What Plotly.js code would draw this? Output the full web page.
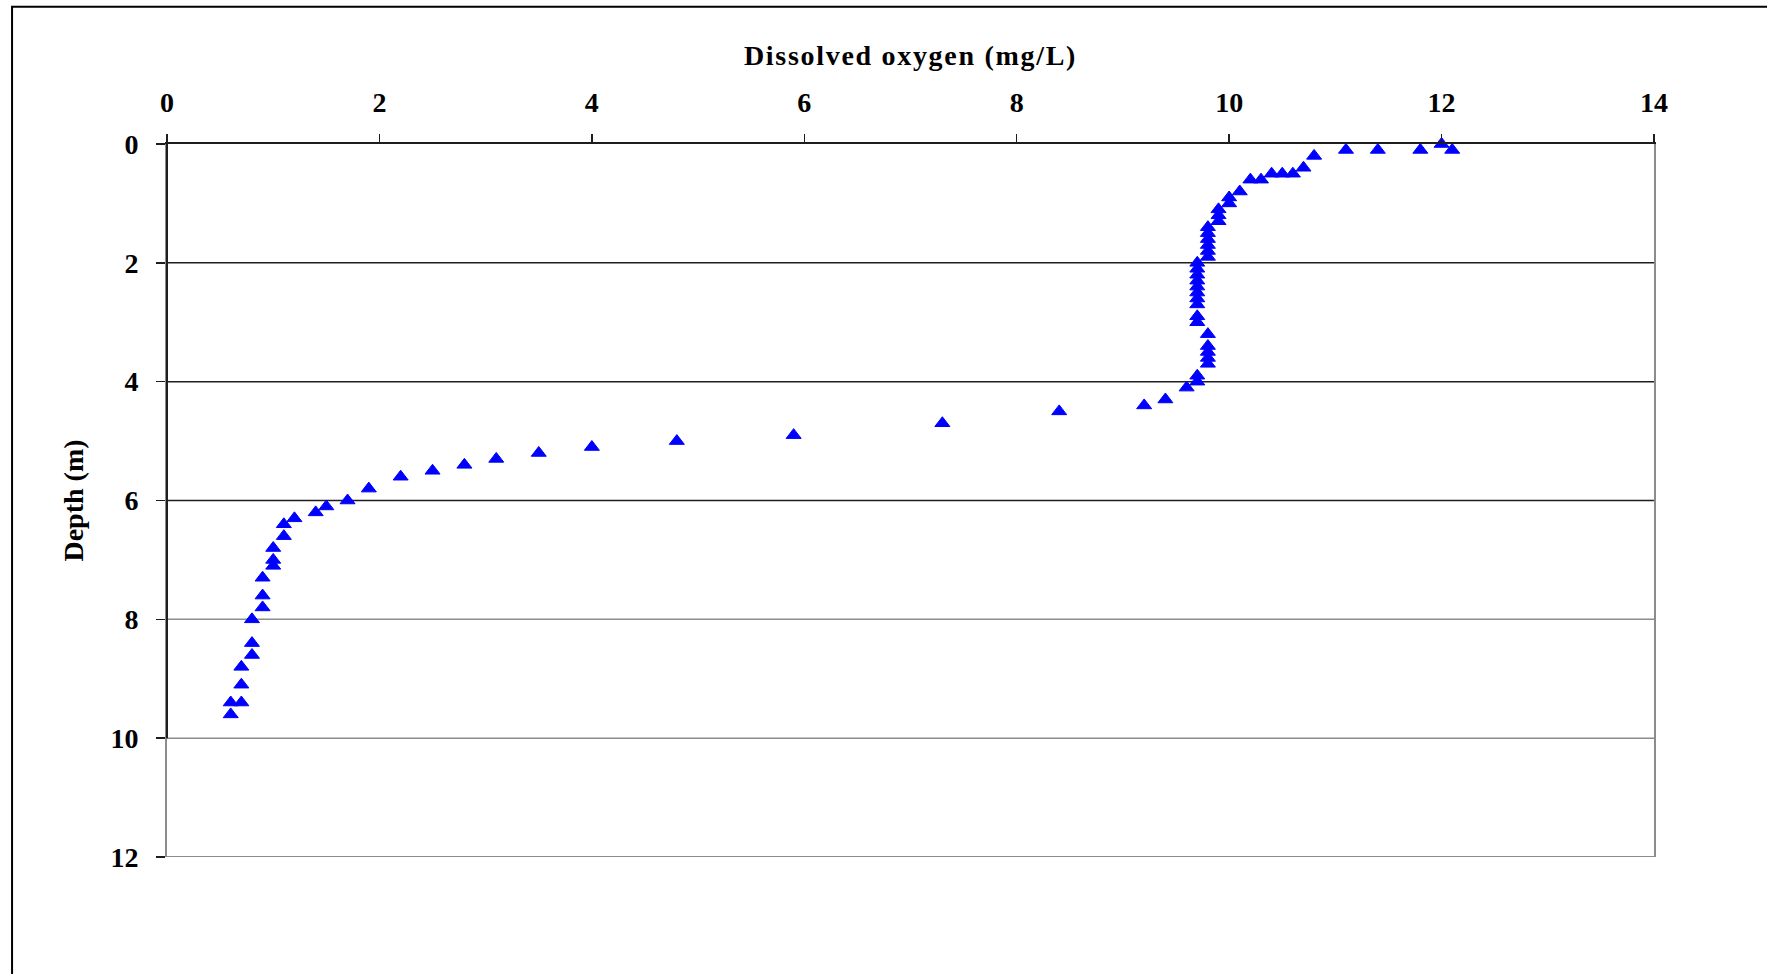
<!DOCTYPE html>
<html>
<head>
<meta charset="utf-8">
<script src="https://cdn.plot.ly/plotly-3.0.1.min.js"></script>
<style>
  html, body { margin: 0; padding: 0; background: #fff; }
  #chart { width: 1767px; height: 974px; }
  .xtitle { letter-spacing: 1.7px; }
</style>
</head>
<body>
<div id="chart"></div>
<script>
// Dissolved oxygen profile: depth (m) against DO concentration (mg/L)
const depthM = [
  0.0, 0.1, 0.1, 0.1, 0.1, 0.2, 0.4, 0.5, 0.5, 0.5,
  0.6, 0.6, 0.8, 0.9, 1.0, 1.1, 1.2, 1.3, 1.4, 1.5,
  1.6, 1.7, 1.8, 1.9, 2.0, 2.1, 2.2, 2.3, 2.4, 2.5,
  2.6, 2.7, 2.9, 3.0, 3.2, 3.4, 3.5, 3.6, 3.7, 3.9,
  4.0, 4.1, 4.3, 4.4, 4.5, 4.7, 4.9, 5.0, 5.1, 5.2,
  5.3, 5.4, 5.5, 5.6, 5.8, 6.0, 6.1, 6.2, 6.3, 6.4,
  6.6, 6.8, 7.0, 7.1, 7.3, 7.6, 7.8, 8.0, 8.4, 8.6,
  8.8, 9.1, 9.4, 9.4, 9.6
];
const dissolvedOxygen = [
  12.0, 12.1, 11.8, 11.4, 11.1, 10.8, 10.7, 10.6, 10.5, 10.4,
  10.3, 10.2, 10.1, 10.0, 10.0, 9.9, 9.9, 9.9, 9.8, 9.8,
  9.8, 9.8, 9.8, 9.8, 9.7, 9.7, 9.7, 9.7, 9.7, 9.7,
  9.7, 9.7, 9.7, 9.7, 9.8, 9.8, 9.8, 9.8, 9.8, 9.7,
  9.7, 9.6, 9.4, 9.2, 8.4, 7.3, 5.9, 4.8, 4.0, 3.5,
  3.1, 2.8, 2.5, 2.2, 1.9, 1.7, 1.5, 1.4, 1.2, 1.1,
  1.1, 1.0, 1.0, 1.0, 0.9, 0.9, 0.9, 0.8, 0.8, 0.8,
  0.7, 0.7, 0.7, 0.6, 0.6
];
const doTicks = [0, 2, 4, 6, 8, 10, 12, 14];
const depthTicks = [0, 2, 4, 6, 8, 10, 12];
const gridDepths = [2, 4, 6, 8, 10];

const serif = 'Liberation Serif, Times New Roman, serif';
const dark = '#1e1e1e';
const grey = '#8c8c8c';

// horizontal grid lines: upper ones crisp and dark, lower ones grey
const shapes = gridDepths.map(d => ({
  type: 'line', xref: 'paper', yref: 'y', layer: 'below',
  x0: 0, x1: 1, y0: d, y1: d,
  line: { color: d <= 6 ? dark : grey, width: 1.5 }
}));
// left axis: dark over most of its length, grey near the bottom
shapes.push({
  type: 'line', xref: 'paper', yref: 'y', layer: 'above',
  x0: 0, x1: 0, y0: 0, y1: 10,
  line: { color: dark, width: 2 }
});
// bottom edge of the plot area
shapes.push({
  type: 'line', xref: 'paper', yref: 'y', layer: 'above',
  x0: 0, x1: 1, y0: 12, y1: 12,
  line: { color: grey, width: 2 }
});
// outer chart frame
shapes.push({
  type: 'rect', xref: 'paper', yref: 'paper', layer: 'below',
  x0: -0.1042, x1: 1.3, y0: -0.4, y1: 1.1925,
  line: { color: '#000', width: 2 }, fillcolor: 'rgba(0,0,0,0)'
});

const trace = {
  type: 'scatter',
  mode: 'markers',
  x: dissolvedOxygen,
  y: depthM,
  marker: { symbol: 'triangle-up', size: 13, color: '#0000ff', line: { width: 1, color: '#0000ff' } },
  cliponaxis: false,
  hoverinfo: 'x+y'
};

const layout = {
  width: 1767,
  height: 974,
  margin: { l: 167, r: 113, t: 144, b: 117 },
  paper_bgcolor: '#fff',
  plot_bgcolor: '#fff',
  showlegend: false,
  font: { family: serif, color: '#000' },
  xaxis: {
    side: 'top',
    range: [0, 14],
    tickvals: doTicks,
    ticks: 'outside',
    ticklen: 8,
    tickwidth: 1.5,
    tickcolor: dark,
    ticklabelstandoff: 11,
    showline: true,
    linecolor: dark,
    linewidth: 2,
    showgrid: false,
    zeroline: false,
    tickfont: { family: serif, size: 28, weight: 'bold', color: '#000' },
    title: {
      text: 'Dissolved oxygen (mg/L)',
      font: { family: serif, size: 28, weight: 'bold', color: '#000' },
      standoff: 13
    }
  },
  yaxis: {
    range: [12, 0],
    tickvals: depthTicks,
    ticks: 'outside',
    ticklen: 9,
    tickwidth: 1.5,
    tickcolor: dark,
    ticklabelstandoff: 12,
    showline: true,
    mirror: true,
    linecolor: grey,
    linewidth: 2,
    showgrid: false,
    zeroline: false,
    tickfont: { family: serif, size: 28, weight: 'bold', color: '#000' },
    title: {
      text: 'Depth (m)',
      font: { family: serif, size: 28, weight: 'bold', color: '#000' },
      standoff: 19
    }
  },
  shapes: shapes
};

Plotly.newPlot('chart', [trace], layout, { displayModeBar: false, staticPlot: true });
</script>
</body>
</html>
